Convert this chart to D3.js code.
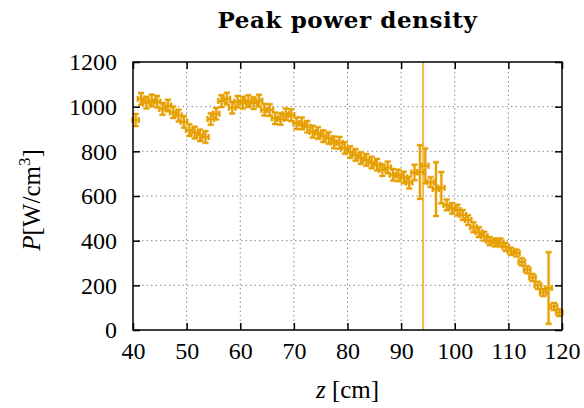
<!DOCTYPE html>
<html><head><meta charset="utf-8">
<script src="https://cdn.jsdelivr.net/npm/d3@7/dist/d3.min.js"></script>
<style>body{margin:0;background:#fff}svg{display:block}</style>
</head><body>
<svg id="c" width="584" height="408"></svg>
<script>
const title = "Peak power density";
const xTicks = [40,50,60,70,80,90,100,110,120];
const yTicks = [0,200,400,600,800,1000,1200];
const zValues = [40.5,41.5,42.5,43.5,44.5,45.5,46.5,47.5,48.5,49.5,50.5,51.5,52.5,53.5,54.5,55.5,56.5,57.5,58.5,59.5,60.5,61.5,62.5,63.5,64.5,65.5,66.5,67.5,68.5,69.5,70.5,71.5,72.5,73.5,74.5,75.5,76.5,77.5,78.5,79.5,80.5,81.5,82.5,83.5,84.5,85.5,86.5,87.5,88.5,89.5,90.5,91.5,92.5,93.5,94.5,95.5,96.5,97.5,98.5,99.5,100.5,101.5,102.5,103.5,104.5,105.5,106.5,107.5,108.5,109.5,110.5,111.5,112.5,113.5,114.5,115.5,116.5,117.5,118.5,119.5];
const power = [940,1035,1018,1028,1022,990,1005,975,960,932,895,884,872,864,945,968,1025,1036,995,1022,1018,1025,1016,1027,986,985,948,945,966,962,926,925,910,888,882,868,860,840,838,815,797,784,770,762,750,740,716,728,695,692,683,660,705,707,735,662,631,637,560,545,537,515,492,460,438,420,398,392,392,372,352,345,305,270,235,200,168,188,105,78];
const powerErr = [27,26,26,26,26,26,26,26,26,26,26,26,26,26,26,26,26,26,26,26,26,26,26,26,26,26,26,26,26,26,26,26,26,26,26,26,26,26,26,26,26,26,26,26,26,26,26,26,26,26,26,26,35,120,78,22,120,70,24,24,24,22,22,22,22,20,18,18,18,18,16,16,16,16,16,16,16,160,16,15];
const zErr = 0.6;
const markerZ = 94.1;

const svg = d3.select("#c");
const x = d3.scaleLinear().domain([40,120]).range([133,562]);
const y = d3.scaleLinear().domain([0,1200]).range([330,62]);
const serif = "'Liberation Serif','DejaVu Serif',serif";
const orange = "#E69F00";

// grid
const g = svg.append("g");
g.selectAll(".gx").data(xTicks.slice(1,-1)).join("line")
  .attr("x1", d=>x(d)).attr("x2", d=>x(d)).attr("y1", y(0)).attr("y2", y(1200))
  .attr("stroke","#888").attr("stroke-width",1).attr("stroke-dasharray","1.5,3");
g.selectAll(".gy").data(yTicks.slice(1,-1)).join("line")
  .attr("y1", d=>y(d)).attr("y2", d=>y(d)).attr("x1", x(40)).attr("x2", x(120))
  .attr("stroke","#888").attr("stroke-width",1).attr("stroke-dasharray","1.5,3");

// vertical marker line
svg.append("line").attr("x1",x(markerZ)).attr("x2",x(markerZ)).attr("y1",y(0)).attr("y2",y(1200))
  .attr("stroke","#F2B84B").attr("stroke-width",2);

// error bars
const cap = 3;
const pts = zValues.map((z,i)=>({z, p:power[i], e:powerErr[i]}));
function glyph(d){
  const cx = x(d.z), cy = y(d.p);
  const x0 = x(d.z - zErr), x1 = x(d.z + zErr);
  const y0 = y(d.p - d.e), y1 = y(d.p + d.e);
  return `M${x0},${cy}H${x1}M${x0},${cy-cap}V${cy+cap}M${x1},${cy-cap}V${cy+cap}`+
         `M${cx},${y0}V${y1}M${cx-cap},${y0}H${cx+cap}M${cx-cap},${y1}H${cx+cap}`;
}
const eb = svg.append("g");
eb.selectAll(".halo").data(pts).join("path").attr("d", glyph)
  .attr("fill","none").attr("stroke","#F5CB7A").attr("stroke-width",3.4).attr("opacity",0.6);
eb.selectAll(".eb").data(pts).join("path").attr("d", glyph)
  .attr("fill","none").attr("stroke",orange).attr("stroke-width",2);

// frame
svg.append("rect").attr("x",x(40)).attr("y",y(1200)).attr("width",x(120)-x(40)).attr("height",y(0)-y(1200))
  .attr("fill","none").attr("stroke","#000").attr("stroke-width",1.5);

// axes (ticks inward, mirrored)
const tl = 7;
const xb = svg.append("g").attr("transform",`translate(0,${y(0)})`)
  .call(d3.axisBottom(x).tickValues(xTicks).tickSizeInner(-tl).tickSizeOuter(0).tickPadding(12).tickFormat(d3.format("d")));
const xt = svg.append("g").attr("transform",`translate(0,${y(1200)})`)
  .call(d3.axisTop(x).tickValues(xTicks).tickSizeInner(-tl).tickSizeOuter(0).tickFormat(""));
const yl = svg.append("g").attr("transform",`translate(${x(40)},0)`)
  .call(d3.axisLeft(y).tickValues(yTicks).tickSizeInner(-tl).tickSizeOuter(0).tickPadding(16).tickFormat(d3.format("d")));
const yr = svg.append("g").attr("transform",`translate(${x(120)},0)`)
  .call(d3.axisRight(y).tickValues(yTicks).tickSizeInner(-tl).tickSizeOuter(0).tickFormat(""));
[xb,xt,yl,yr].forEach(a=>{
  a.select(".domain").remove();
  a.selectAll(".tick line").attr("stroke","#000").attr("stroke-width",1.5);
  a.selectAll("text").attr("font-family",serif).attr("font-size",24).attr("fill","#000");
});
xb.selectAll(".tick text").attr("dy","0.71em");

// title
svg.append("text").attr("x",(x(40)+x(120))/2).attr("y",28).attr("text-anchor","middle")
  .attr("font-family","'DejaVu Serif',serif").attr("font-weight","bold").attr("font-size",23)
  .attr("letter-spacing",0.6).text(title);

// x label
const xlab = svg.append("text").attr("x",(x(40)+x(120))/2).attr("y",398).attr("text-anchor","middle")
  .attr("font-family",serif).attr("font-size",25);
xlab.append("tspan").attr("font-style","italic").text("z");
xlab.append("tspan").text(" [cm]");

// y label
const ylab = svg.append("text").attr("transform",`translate(40,200) rotate(-90)`).attr("text-anchor","middle")
  .attr("font-family",serif).attr("font-size",25);
ylab.append("tspan").attr("font-style","italic").text("P");
ylab.append("tspan").text("[W/cm");
ylab.append("tspan").attr("font-size",17).attr("dy",-10).text("3");
ylab.append("tspan").attr("dy",10).text("]");
</script>
</body></html>
